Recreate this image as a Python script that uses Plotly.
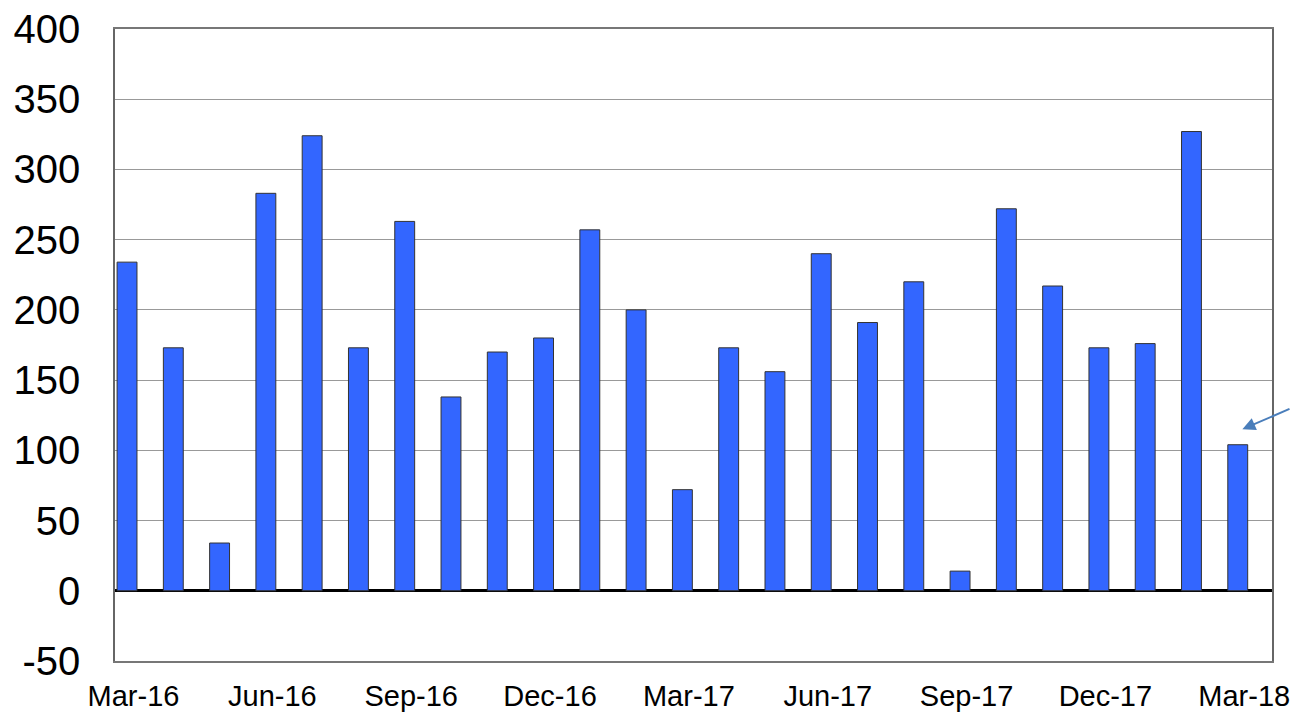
import plotly.graph_objects as go

months = ["Mar-16", "Apr-16", "May-16", "Jun-16", "Jul-16", "Aug-16", "Sep-16",
          "Oct-16", "Nov-16", "Dec-16", "Jan-17", "Feb-17", "Mar-17", "Apr-17",
          "May-17", "Jun-17", "Jul-17", "Aug-17", "Sep-17", "Oct-17", "Nov-17",
          "Dec-17", "Jan-18", "Feb-18", "Mar-18"]
values = [234, 173, 34, 283, 324, 173, 263, 138, 170, 180, 257, 200, 72, 173,
          156, 240, 191, 220, 14, 272, 217, 173, 176, 327, 104]
tick_labels = ["Mar-16", "Jun-16", "Sep-16", "Dec-16", "Mar-17", "Jun-17",
               "Sep-17", "Dec-17", "Mar-18"]
y_ticks = [-50, 0, 50, 100, 150, 200, 250, 300, 350, 400]
y_text = ["-50", "0", "50", "100", "150", "200", "250", "300", "350", "400"]

# bars sit a little left of their slot centre (like the original Excel chart)
idx = list(range(len(months)))
bar_x = [i - 0.24 for i in idx]
# labels nudged left a touch so Mar-18 fits inside the page
tick_pos = [months.index(m) - 0.1 for m in tick_labels]

fig = go.Figure()
fig.add_trace(go.Bar(x=bar_x, y=values, width=0.43,
                     marker=dict(color="#3366ff", line=dict(color="#333333", width=1)),
                     hovertext=months))

fig.add_annotation(x=23.86, y=115, ax=56, ay=-21, xref="x", yref="y",
                   showarrow=True, arrowhead=2, arrowsize=1.3, arrowwidth=2,
                   arrowcolor="#4a7ebb", text="")

# the page puts the figure 8px in from the corner, so shrink it to fit
fig.update_layout(
    width=1283, height=707,
    margin=dict(l=107, r=19, t=21, b=54),
    plot_bgcolor="white", paper_bgcolor="white",
    showlegend=False,
    font=dict(family="Liberation Sans, Arial", color="black"),
    xaxis=dict(range=[-0.5, 24.5], tickvals=tick_pos, ticktext=tick_labels,
               tickfont=dict(size=29), showgrid=False, zeroline=False,
               showline=True, linecolor="#777777", linewidth=1.5, mirror=True,
               ticks="", ticklabelstandoff=8, automargin=False,
               ticklabeloverflow="allow"),
    yaxis=dict(range=[-50, 400], tickvals=y_ticks, ticktext=y_text,
               tickfont=dict(size=40),
               showgrid=True, gridcolor="#999999", gridwidth=1.2,
               zeroline=True, zerolinecolor="black", zerolinewidth=3,
               showline=True, linecolor="#666666", linewidth=1.5, mirror=True,
               ticks="", ticklabelstandoff=25, automargin=False,
               ticklabeloverflow="allow"),
)

fig.write_html("out.html")
